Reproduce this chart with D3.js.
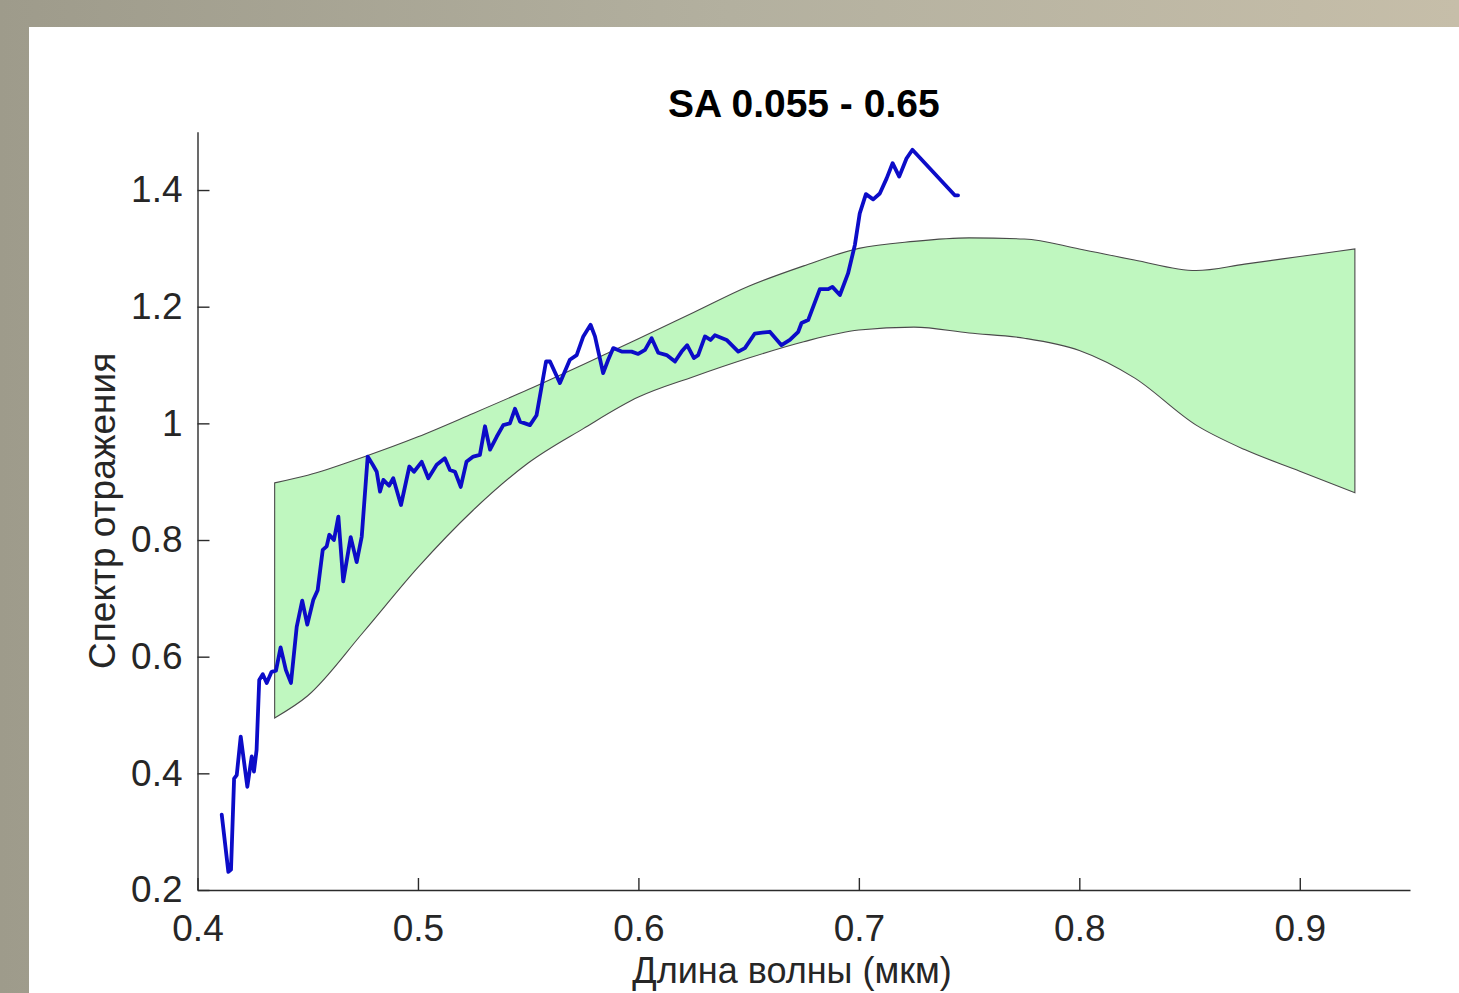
<!DOCTYPE html>
<html>
<head>
  <meta charset="utf-8">
  <style type="text/css">
    body { margin: 0; }
    svg { display: block; font-family: "Liberation Sans", Arial, sans-serif; }
    .axis path, .axis line { stroke: #2b2b2b; stroke-width: 1.4; }
    .axis text { fill: #262626; font-size: 37px; font-family: "Liberation Sans", Arial, sans-serif; }
  </style>
  <script src="https://d3js.org/d3.v7.min.js"></script>
</head>
<body>
  <div id="chart"></div>
  <script type="text/javascript">
    "use strict";

    // envelope (green band) - wavelength, upper and lower edge
    var bandX     = [0.435, 0.45, 0.475, 0.5, 0.525, 0.55, 0.575, 0.6, 0.625, 0.65, 0.675, 0.7,
                     0.725, 0.75, 0.775, 0.8, 0.825, 0.853, 0.875, 0.9, 0.925];
    var bandUpper = [0.898, 0.911, 0.942, 0.977, 1.017, 1.058, 1.101, 1.145, 1.190, 1.235, 1.270, 1.300,
                     1.312, 1.318, 1.316, 1.299, 1.280, 1.262, 1.273, 1.286, 1.299];
    var bandLower = [0.495, 0.533, 0.641, 0.753, 0.851, 0.932, 0.991, 1.045, 1.080, 1.112, 1.140, 1.160,
                     1.165, 1.155, 1.146, 1.125, 1.078, 0.997, 0.955, 0.918, 0.881];

    // measured spectrum (blue line)
    var specX = [0.411, 0.414, 0.4152, 0.4166, 0.4178, 0.4196, 0.4226, 0.4246, 0.4256, 0.4268,
                 0.428, 0.4296, 0.4314, 0.4336, 0.4356, 0.4377, 0.4401, 0.4424, 0.445, 0.4475,
                 0.4498, 0.4525, 0.4545, 0.4568, 0.4586, 0.4598, 0.4619, 0.4639, 0.4661, 0.4695,
                 0.4722, 0.4745, 0.4772, 0.4795, 0.4813, 0.4828, 0.4843, 0.4869, 0.4888, 0.4923,
                 0.4961, 0.4982, 0.5017, 0.5047, 0.5085, 0.5122, 0.5145, 0.5168, 0.5194, 0.522,
                 0.5251, 0.5281, 0.5304, 0.5327, 0.5357, 0.5387, 0.5417, 0.544, 0.5463, 0.5508,
                 0.5538, 0.5581, 0.5599, 0.5644, 0.5689, 0.572, 0.575, 0.5783, 0.5803, 0.584,
                 0.5863, 0.5886, 0.5924, 0.5969, 0.5999, 0.603, 0.606, 0.609, 0.6128, 0.6166,
                 0.6196, 0.6221, 0.6252, 0.6271, 0.6302, 0.6327, 0.6347, 0.64, 0.6453, 0.6483,
                 0.6528, 0.6596, 0.6649, 0.6687, 0.6725, 0.674, 0.677, 0.6823, 0.6861, 0.688,
                 0.6914, 0.6951, 0.6982, 0.7004, 0.7032, 0.7065, 0.7095, 0.7126, 0.7153, 0.7183,
                 0.7216, 0.7243, 0.7337, 0.7435, 0.745];
    var specY = [0.329, 0.231, 0.235, 0.391, 0.397, 0.463, 0.377, 0.429, 0.403, 0.44,
                 0.560, 0.570, 0.555, 0.574, 0.576, 0.616, 0.577, 0.555, 0.651, 0.696,
                 0.655, 0.697, 0.714, 0.783, 0.789, 0.809, 0.800, 0.840, 0.729, 0.805,
                 0.762, 0.806, 0.943, 0.929, 0.917, 0.883, 0.903, 0.893, 0.906, 0.860,
                 0.926, 0.917, 0.934, 0.906, 0.929, 0.940, 0.920, 0.917, 0.891, 0.934,
                 0.943, 0.946, 0.995, 0.955, 0.977, 0.997, 1.000, 1.025, 1.003, 0.997,
                 1.014, 1.106, 1.106, 1.069, 1.109, 1.117, 1.149, 1.169, 1.149, 1.086,
                 1.109, 1.129, 1.123, 1.123, 1.119, 1.126, 1.146, 1.121, 1.117, 1.106,
                 1.123, 1.134, 1.112, 1.117, 1.149, 1.143, 1.151, 1.143, 1.123, 1.129,
                 1.154, 1.157, 1.134, 1.143, 1.157, 1.172, 1.177, 1.230, 1.230, 1.234,
                 1.220, 1.257, 1.306, 1.360, 1.393, 1.384, 1.394, 1.420, 1.446, 1.423,
                 1.454, 1.469, 1.431, 1.391, 1.391];

    var xTicks = [0.4, 0.5, 0.6, 0.7, 0.8, 0.9];
    var yTicks = [0.2, 0.4, 0.6, 0.8, 1.0, 1.2, 1.4];

    var W = 1459, H = 993;
    var mLeft = 197.5, mRight = 1410, mTop = 131.7, mBottom = 890;

    var svg = d3.select("#chart").append("svg")
        .attr("width", W).attr("height", H);

    // slide background
    var grad = svg.append("defs").append("linearGradient")
        .attr("id", "bg").attr("x1", "0").attr("x2", "1").attr("y1", "0").attr("y2", "0");
    grad.append("stop").attr("offset", "0").attr("stop-color", "#9e9b8b");
    grad.append("stop").attr("offset", "0.5").attr("stop-color", "#b3b09f");
    grad.append("stop").attr("offset", "1").attr("stop-color", "#c6bea9");
    svg.append("rect").attr("width", W).attr("height", H).attr("fill", "url(#bg)");
    svg.append("rect").attr("x", 29).attr("y", 27).attr("width", W - 29).attr("height", H - 27)
        .attr("fill", "#ffffff");

    var x = d3.scaleLinear().domain([0.4, 0.95]).range([mLeft, mRight]);
    var y = d3.scaleLinear().domain([0.2, 1.5]).range([mBottom, mTop]);

    // green band
    var band = bandX.map(function(d, i) { return {x: d, hi: bandUpper[i], lo: bandLower[i]}; });
    var area = d3.area()
        .x(function(d) { return x(d.x); })
        .y0(function(d) { return y(d.lo); })
        .y1(function(d) { return y(d.hi); })
        .curve(d3.curveMonotoneX);
    svg.append("path").datum(band)
        .attr("d", area)
        .attr("fill", "#bff7bf")
        .attr("stroke", "#4a4a4a")
        .attr("stroke-width", 1.1);

    // spectrum
    var spec = specX.map(function(d, i) { return [d, specY[i]]; });
    var line = d3.line()
        .x(function(d) { return x(d[0]); })
        .y(function(d) { return y(d[1]); });
    svg.append("path").datum(spec)
        .attr("d", line)
        .attr("fill", "none")
        .attr("stroke", "#0c0cc8")
        .attr("stroke-width", 3.8)
        .attr("stroke-linejoin", "round")
        .attr("stroke-linecap", "round");

    // axes, ticks pointing inward like matlab
    svg.append("g").attr("class", "axis")
        .attr("transform", "translate(0," + mBottom + ")")
        .call(d3.axisBottom(x).tickValues(xTicks).tickSizeInner(-12).tickSizeOuter(0)
              .tickPadding(25).tickFormat(d3.format(".1f")));

    svg.append("g").attr("class", "axis")
        .attr("transform", "translate(" + mLeft + ",0)")
        .call(d3.axisLeft(y).tickValues(yTicks).tickSizeInner(-12).tickSizeOuter(0)
              .tickPadding(15).tickFormat(function(d) { return d === 1 ? "1" : d3.format(".1f")(d); }));

    svg.append("text")
        .attr("x", (mLeft + mRight) / 2).attr("y", 117)
        .attr("text-anchor", "middle")
        .style("font-size", "39px").style("font-weight", "bold").style("fill", "#000")
        .text("SA 0.055 - 0.65");

    svg.append("text")
        .attr("transform", "translate(115," + (mTop + mBottom) / 2 + ") rotate(-90)")
        .attr("text-anchor", "middle")
        .style("font-size", "37px").style("fill", "#262626")
        .text("Спектр отражения");

    svg.append("text")
        .attr("x", 792).attr("y", 983)
        .attr("text-anchor", "middle")
        .style("font-size", "36px").style("fill", "#262626")
        .text("Длина волны (мкм)");
  </script>
</body>
</html>
